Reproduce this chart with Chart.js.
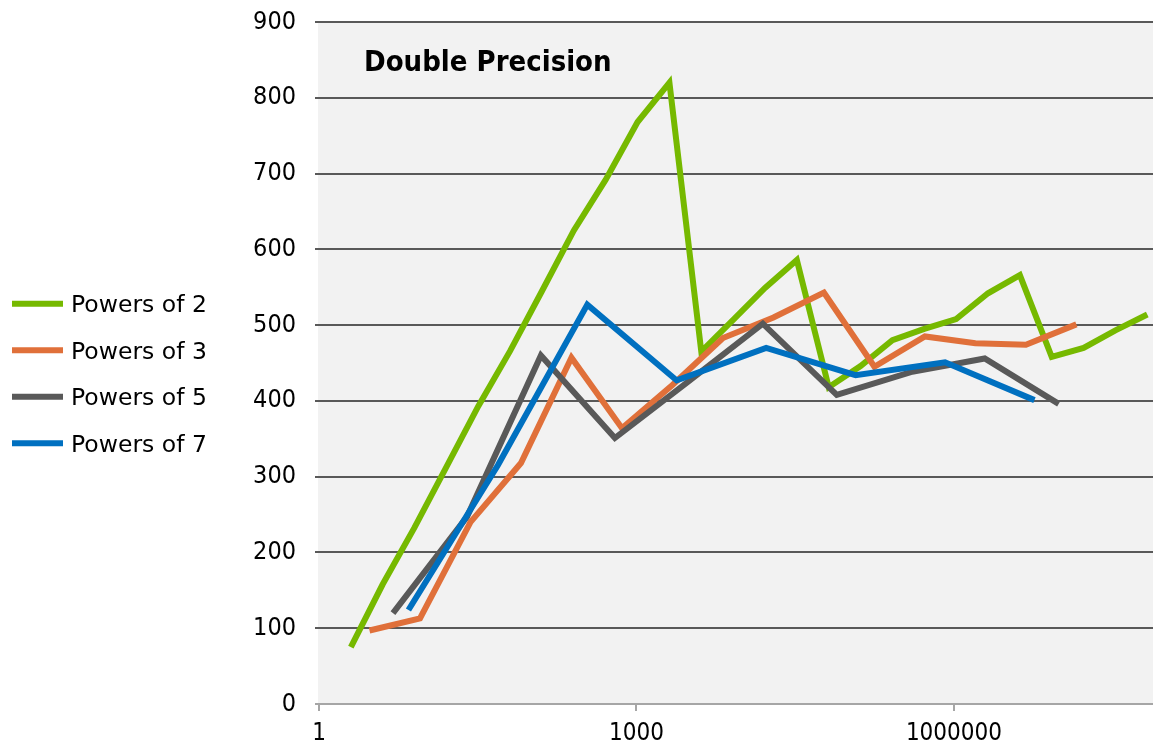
<!DOCTYPE html>
<html>
<head>
<meta charset="utf-8">
<title>Double Precision</title>
<script src="https://cdn.jsdelivr.net/npm/chart.js@4.4.1/dist/chart.umd.min.js"></script>
<style>
  html, body { margin: 0; padding: 0; background: #ffffff; }
  #chart { display: block; }
</style>
</head>
<body>
<canvas id="chart" width="1153" height="748"></canvas>
<script>
// Transform sizes (x) and measured performance (y) for each radix family
const pow2Sizes = [2, 4, 8, 16, 32, 64, 128, 256, 512, 1024, 2048, 4096, 8192, 16384, 32768,
  65536, 131072, 262144, 524288, 1048576, 2097152, 4194304, 8388608, 16777216, 33554432, 67108864];
const pow2Values = [75, 158, 233, 313, 393, 466, 545, 625, 692, 768, 820, 465, 507, 549, 586,
  418, 446, 480, 495, 508, 542, 566, 458, 470, 493, 514];

const pow3Sizes = [3, 9, 27, 81, 243, 729, 2187, 6561, 19683, 59049, 177147, 531441, 1594323, 4782969, 14348907];
const pow3Values = [97, 113, 240, 318, 457, 364, 421, 483, 510, 543, 445, 485, 476, 474, 501];

const pow5Sizes = [5, 25, 125, 625, 3125, 15625, 78125, 390625, 1953125, 9765625];
const pow5Values = [120, 247, 460, 351, 426, 502, 408, 438, 456, 396];

const pow7Sizes = [7, 49, 343, 2401, 16807, 117649, 823543, 5764801];
const pow7Values = [124, 315, 527, 427, 470, 434, 451, 401];

const seriesNames = ['Powers of 2', 'Powers of 3', 'Powers of 5', 'Powers of 7'];
const seriesColors = ['#76b900', '#e0703a', '#595959', '#0070c0'];
const seriesSizes = [pow2Sizes, pow3Sizes, pow5Sizes, pow7Sizes];
const seriesValues = [pow2Values, pow3Values, pow5Values, pow7Values];

const xTickValues = [1, 1000, 1000000];
const xMin = 1;
const xMax = 76000000;
const yMin = 0;
const yMax = 900;
const yStep = 100;
const chartTitle = 'Double Precision';

const axisFont = '"DejaVu Sans Condensed", "DejaVu Sans", sans-serif';

function toPoints(xs, ys) {
  return xs.map((x, i) => ({ x: x, y: ys[i] }));
}

// Light gray plotting area behind the grid
const plotBackground = {
  id: 'plotBackground',
  beforeDraw(chart) {
    const { ctx, chartArea: a } = chart;
    ctx.save();
    ctx.fillStyle = '#f2f2f2';
    ctx.fillRect(a.left - 1, a.top, a.right - a.left + 1, a.bottom - a.top);
    ctx.restore();
  }
};

// Title written inside the plotting area
const plotTitle = {
  id: 'plotTitle',
  afterDraw(chart) {
    const ctx = chart.ctx;
    ctx.save();
    ctx.font = 'bold 29px "DejaVu Sans Condensed", "DejaVu Sans", sans-serif';
    ctx.fillStyle = '#000000';
    ctx.textAlign = 'left';
    ctx.textBaseline = 'alphabetic';
    ctx.fillText(chartTitle, 364, 71);
    ctx.restore();
  }
};

// Series key drawn in the left margin
const sideLegend = {
  id: 'sideLegend',
  afterDraw(chart) {
    const ctx = chart.ctx;
    ctx.save();
    ctx.font = '23.5px "DejaVu Sans", sans-serif';
    ctx.fillStyle = '#000000';
    ctx.textAlign = 'left';
    ctx.textBaseline = 'alphabetic';
    chart.data.datasets.forEach((ds, i) => {
      const yMid = 303.7 + i * 46.5;
      ctx.strokeStyle = ds.borderColor;
      ctx.lineWidth = 6;
      ctx.lineCap = 'butt';
      ctx.beginPath();
      ctx.moveTo(12, yMid);
      ctx.lineTo(63, yMid);
      ctx.stroke();
      ctx.fillText(ds.label, 71, yMid + 8.6);
    });
    ctx.restore();
  }
};

const datasets = seriesNames.map((name, i) => ({
  label: name,
  data: toPoints(seriesSizes[i], seriesValues[i]),
  borderColor: seriesColors[i],
  backgroundColor: seriesColors[i],
  borderWidth: 6,
  borderJoinStyle: 'miter',
  borderCapStyle: 'butt',
  pointRadius: 0,
  pointHoverRadius: 0,
  tension: 0,
  fill: false,
  order: seriesNames.length - i
}));

new Chart(document.getElementById('chart'), {
  type: 'line',
  data: { datasets: datasets },
  plugins: [plotBackground, plotTitle, sideLegend],
  options: {
    responsive: false,
    animation: false,
    devicePixelRatio: 1,
    layout: { padding: { top: 22, right: 0, bottom: 0, left: 0 } },
    plugins: {
      legend: { display: false },
      title: { display: false },
      tooltip: { enabled: false }
    },
    scales: {
      x: {
        type: 'logarithmic',
        min: xMin,
        max: xMax,
        afterBuildTicks(scale) {
          scale.ticks = xTickValues.map(v => ({ value: v, major: true }));
        },
        afterFit(scale) {
          scale.height = 44;
          scale.paddingLeft = 0;
          scale.paddingRight = 0;
        },
        ticks: {
          autoSkip: false,
          maxRotation: 0,
          padding: 8,
          color: '#000000',
          font: { family: axisFont, size: 24 },
          callback: (v) => String(v)
        },
        grid: {
          drawOnChartArea: false,
          drawTicks: true,
          tickLength: 7,
          color: '#a6a6a6',
          lineWidth: 2
        },
        border: { display: false }
      },
      y: {
        min: yMin,
        max: yMax,
        afterFit(scale) {
          scale.width = 319;
          scale.paddingTop = 0;
          scale.paddingBottom = 0;
        },
        ticks: {
          stepSize: yStep,
          padding: 19,
          color: '#000000',
          font: { family: axisFont, size: 25 }
        },
        grid: {
          color: (c) => (c.tick && c.tick.value === 0 ? '#a6a6a6' : '#595959'),
          lineWidth: 2,
          tickLength: 4,
          drawTicks: true
        },
        border: { display: false }
      }
    }
  }
});
</script>
</body>
</html>
